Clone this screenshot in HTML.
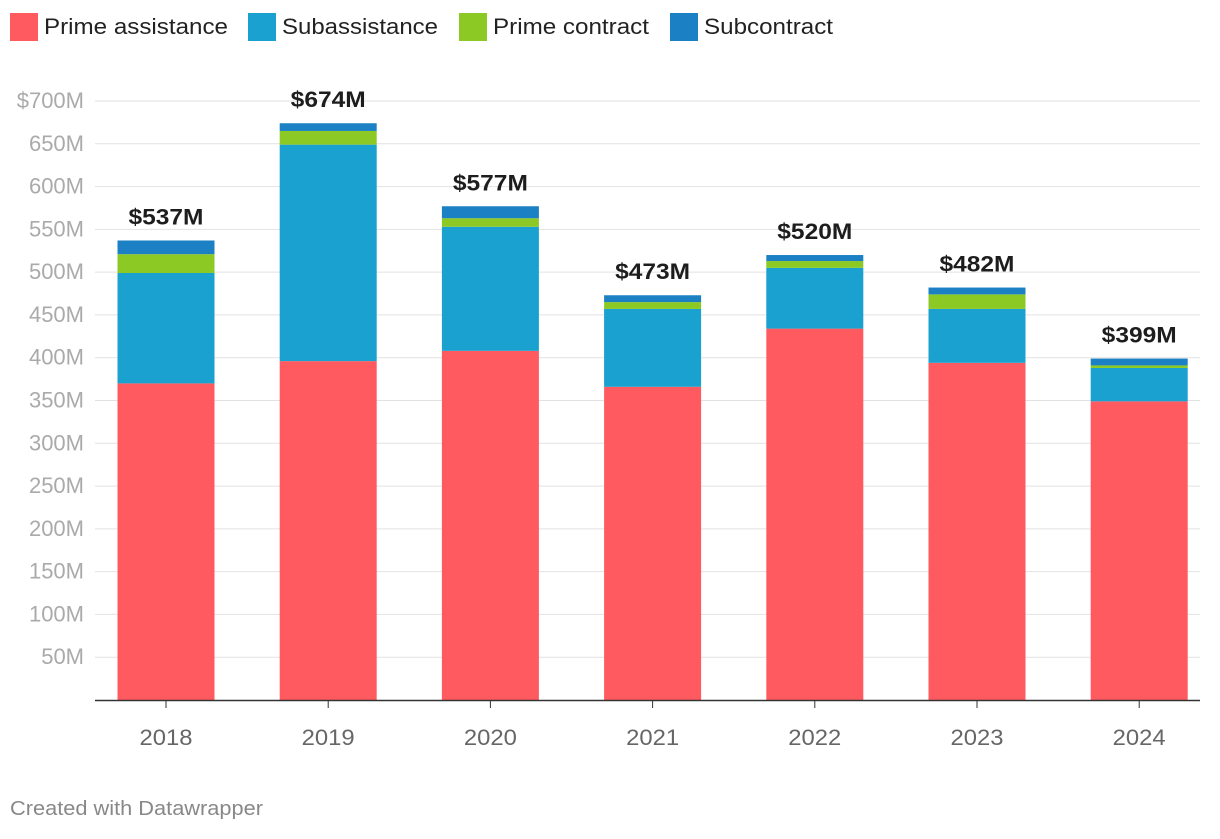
<!DOCTYPE html>
<html><head><meta charset="utf-8"><style>
body{margin:0;background:#fff;font-family:"Liberation Sans",sans-serif;}
</style></head><body>
<svg width="1220" height="834" xmlns="http://www.w3.org/2000/svg" font-family="Liberation Sans, sans-serif">
<g id="legend"></g>
<g id="grid"></g>
<g id="bars"></g>
<g id="xaxis"></g>
<text x="10" y="815" font-size="20" fill="#888" textLength="253" lengthAdjust="spacingAndGlyphs">Created with Datawrapper</text>
</svg>
<script>
const years=["2018","2019","2020","2021","2022","2023","2024"];
const primeAssistance=[370,396,408,366,434,394,349];
const subassistance=[129,253,145,91,71,63,39];
const primeContract=[22,16,10,8,8,17,3];
const subcontract=[16,9,14,8,7,8,8];
const totals=[537,674,577,473,520,482,399];
const yTicks=[50,100,150,200,250,300,350,400,450,500,550,600,650,700];
const seriesNames=["Prime assistance","Subassistance","Prime contract","Subcontract"];
const colors=["#ff5a5f","#1aa1cf","#8dc925","#1c81c4"];
const NS="http://www.w3.org/2000/svg";
function mk(t,a,p){const e=document.createElementNS(NS,t);for(const k in a)e.setAttribute(k,a[k]);p.appendChild(e);return e;}
const y0=700,pxPerM=599/700;
function y(v){return y0-v*pxPerM;}
function xc(i){return 166+i*162.2;}
const bw=97;
// legend
const lg=document.getElementById('legend');
const lx=[10,248,459,670];
const lw=[184,156,156,129];
seriesNames.forEach((n,i)=>{
 const r=mk('rect',{x:lx[i],y:13,width:28,height:28,fill:colors[i]},lg);
 
 
 const t=mk('text',{x:lx[i]+34,y:34,'font-size':22,fill:'#222',textLength:lw[i],lengthAdjust:'spacingAndGlyphs'},lg);
 t.textContent=n;
 
 
});
// grid
const g=document.getElementById('grid');
yTicks.forEach(v=>{
 const l=mk('line',{x1:95,x2:1200,y1:y(v),y2:y(v),stroke:'#e2e2e2','stroke-width':1},g);
 
 
 const t=mk('text',{x:84,y:y(v)+7,'text-anchor':'end','font-size':22,fill:'#aaa'},g);
 t.textContent=(v===700?'$':'')+v+'M';
 
 
});
// bars
const b=document.getElementById('bars');
const series=[primeAssistance,subassistance,primeContract,subcontract];
years.forEach((yr,i)=>{
 let acc=0;
 series.forEach((s,k)=>{
  const top=acc+s[i];
  const r=mk('rect',{x:xc(i)-bw/2,y:y(top),width:bw,height:y(acc)-y(top),fill:colors[k]},b);
  
  
  acc=top;
 });
 const t=mk('text',{x:xc(i),y:y(totals[i])-16,'text-anchor':'middle','font-size':22,'font-weight':'bold',fill:'#1d1d1d',textLength:75,lengthAdjust:'spacingAndGlyphs'},b);
 t.textContent='$'+totals[i]+'M';
 
 
});
// x axis
const xa=document.getElementById('xaxis');
const al=mk('line',{x1:95,x2:1200,y1:700.5,y2:700.5,stroke:'#333','stroke-width':1.5},xa);


years.forEach((yr,i)=>{
 const tk=mk('line',{x1:xc(i),x2:xc(i),y1:700,y2:708,stroke:'#333','stroke-width':1},xa);
 
 
 const t=mk('text',{x:xc(i),y:745,'text-anchor':'middle','font-size':22,fill:'#666',textLength:53,lengthAdjust:'spacingAndGlyphs'},xa);
 t.textContent=yr;
 
 
});
</script>
</body></html>
